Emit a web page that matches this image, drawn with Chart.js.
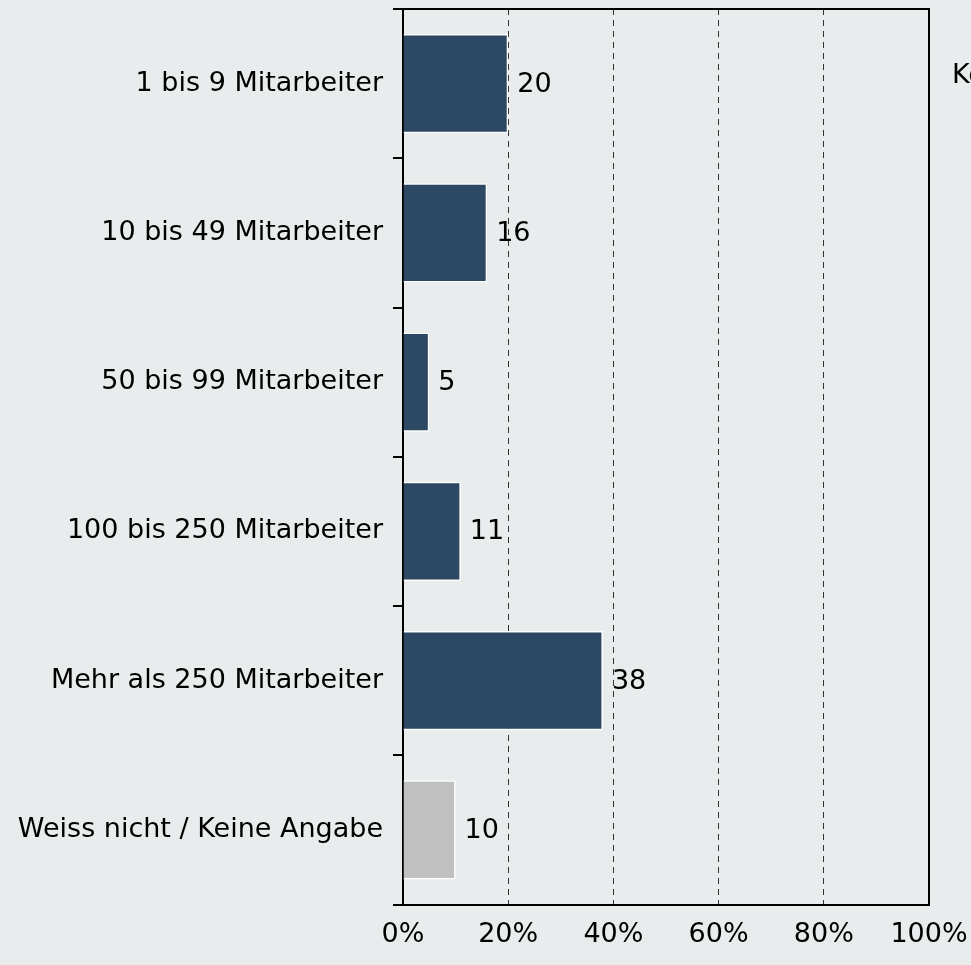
<!DOCTYPE html>
<html>
<head>
<meta charset="utf-8">
<script src="https://cdn.jsdelivr.net/npm/chart.js@4.4.1/dist/chart.umd.min.js"></script>
<style>
	html, body { margin: 0; padding: 0; background: #e9eced; }
	#wrap { width: 971px; height: 965px; }
</style>
</head>
<body>
<div id="wrap"><canvas id="sizeChart"></canvas></div>
<script>
const categories = [
	'1 bis 9 Mitarbeiter',
	'10 bis 49 Mitarbeiter',
	'50 bis 99 Mitarbeiter',
	'100 bis 250 Mitarbeiter',
	'Mehr als 250 Mitarbeiter',
	'Weiss nicht / Keine Angabe'
];
const shares = [20, 16, 5, 11, 38, 10];
const xTicks = [0, 20, 40, 60, 80, 100];
const sideText = 'Ke';

document.addEventListener('DOMContentLoaded', () => {
	const font = { family: 'DejaVu Sans', size: 27 };

	// frame, value labels and the clipped text on the right
	const extras = {
		id: 'extras',
		afterDatasetsDraw(chart) {
			const ctx = chart.ctx;
			const meta = chart.getDatasetMeta(0);
			ctx.save();
			ctx.font = `${font.size}px ${font.family}`;
			ctx.fillStyle = '#000';
			ctx.textAlign = 'left';
			ctx.textBaseline = 'middle';
			meta.data.forEach((bar, i) => {
				ctx.fillText(String(shares[i]), bar.x + 9, bar.y + 1);
			});
			ctx.restore();
		},
		afterDraw(chart) {
			const { ctx, chartArea } = chart;
			ctx.save();
			ctx.strokeStyle = '#000';
			ctx.lineWidth = 2;
			ctx.beginPath();
			ctx.moveTo(chartArea.left, chartArea.top);
			ctx.lineTo(chartArea.right, chartArea.top);
			ctx.lineTo(chartArea.right, chartArea.bottom);
			ctx.stroke();
			ctx.font = `${font.size}px ${font.family}`;
			ctx.fillStyle = '#000';
			ctx.textBaseline = 'alphabetic';
			ctx.fillText(sideText, chartArea.right + 23, 83);
			ctx.restore();
		}
	};

	new Chart(document.getElementById('sizeChart').getContext('2d'), {
		type: 'bar',
		data: {
			labels: categories,
			datasets: [{
				data: shares,
				backgroundColor: (c) => c.index === categories.length - 1 ? '#c0c0c0' : '#2d4862',
				borderColor: '#ffffff',
				borderWidth: 1.5,
				barPercentage: 0.665,
				categoryPercentage: 1
			}]
		},
		options: {
			indexAxis: 'y',
			responsive: true,
			maintainAspectRatio: false,
			animation: false,
			layout: { padding: { top: 9, right: 42, bottom: 0, left: 0 } },
			scales: {
				x: {
					min: 0,
					max: 100,
					afterBuildTicks: (s) => { s.ticks = xTicks.map(v => ({ value: v })); },
					afterFit: (s) => { s.paddingLeft = 0; s.paddingRight = 0; },
					ticks: {
						callback: (v) => v + '%',
						color: '#000',
						font: font,
						padding: 14,
						maxRotation: 0
					},
					grid: {
						color: '#333',
						lineWidth: 1,
						drawTicks: false
					},
					border: { color: '#000', width: 2, dash: [6, 5] }
				},
				y: {
					afterFit: (s) => { s.width = 403; s.paddingTop = 0; s.paddingBottom = 0; },
					ticks: {
						color: '#000',
						font: font,
						padding: 10
					},
					grid: {
						offset: true,
						drawOnChartArea: false,
						drawTicks: true,
						tickLength: 10,
						color: '#000',
						lineWidth: 2
					},
					border: { color: '#000', width: 2 }
				}
			},
			plugins: {
				legend: { display: false },
				tooltip: { enabled: false }
			}
		},
		plugins: [extras]
	});
});
</script>
</body>
</html>
